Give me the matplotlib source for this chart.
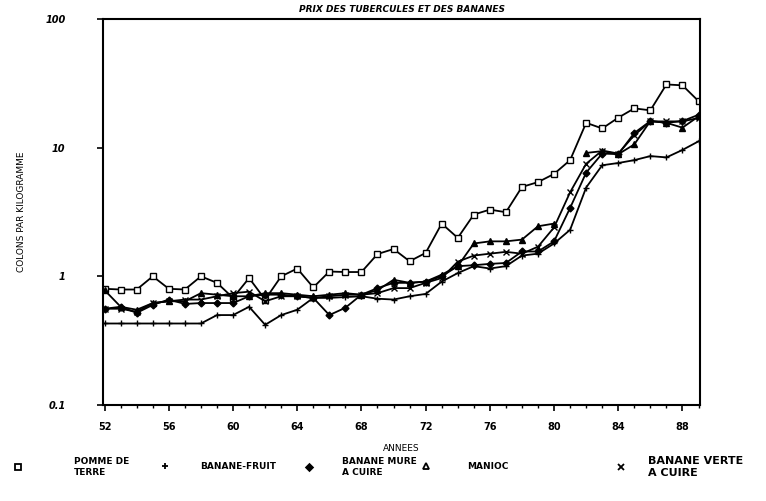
import matplotlib.pyplot as plt
from matplotlib.lines import Line2D
from matplotlib.ticker import FixedLocator, NullFormatter

years = list(range(52, 90))

pomme_de_terre = [0.80, 0.79, 0.79, 1.00, 0.80, 0.79, 1.00, 0.89, 0.68, 0.97,
                  0.66, 1.00, 1.15, 0.82, 1.09, 1.08, 1.08, 1.49, 1.63, 1.31,
                  1.52, 2.57, 1.99, 3.02, 3.30, 3.15, 4.95, 5.40, 6.25, 8.00,
                  15.6, 14.1, 17.1, 20.2, 19.5, 31.0, 30.5, 23.0]
banane_fruit = [0.43, 0.43, 0.43, 0.43, 0.43, 0.43, 0.43, 0.50, 0.50, 0.58,
                0.42, 0.50, 0.55, 0.68, 0.68, 0.69, 0.70, 0.67, 0.66, 0.70,
                0.73, 0.91, 1.06, 1.20, 1.15, 1.20, 1.45, 1.50, 1.80, 2.30,
                4.90, 7.30, 7.60, 8.00, 8.60, 8.40, 9.60, 11.2]
banane_mure = [0.56, 0.58, 0.52, 0.60, 0.66, 0.61, 0.62, 0.62, 0.62, 0.70,
               0.72, 0.72, 0.70, 0.68, 0.50, 0.57, 0.72, 0.81, 0.89, 0.89,
               0.91, 1.00, 1.20, 1.22, 1.25, 1.27, 1.56, 1.56, 1.87, 3.40,
               6.40, 9.00, 8.90, 13.0, 16.1, 15.6, 16.1, 18.0]
manioc = [0.78, 0.58, 0.55, 0.62, 0.64, 0.64, 0.74, 0.72, 0.70, 0.70,
          0.74, 0.74, 0.72, 0.70, 0.72, 0.74, 0.72, 0.78, 0.94, 0.89,
          0.91, 1.03, 1.20, 1.80, 1.87, 1.87, 1.93, 2.45, 2.57, None,
          9.10, 9.40, 8.90, 10.6, 16.1, 15.6, 14.3, 17.5]
banane_verte = [0.56, 0.56, 0.53, 0.62, 0.64, 0.66, 0.66, 0.70, 0.74, 0.76,
                0.64, 0.70, 0.70, 0.68, 0.70, 0.72, 0.72, 0.74, 0.81, 0.81,
                0.89, 0.97, 1.30, 1.45, 1.50, 1.55, 1.50, 1.70, 2.40, 4.50,
                7.50, 9.50, 9.00, 12.5, 16.0, 16.0, 16.0, 17.0]

# label, values, marker style, legend marker x (fig fraction), gap marker->text, font size
series = [
    ("POMME DE\nTERRE", pomme_de_terre, dict(marker="s", mfc="white", ms=4.5), 0.018, 5.7, 6.5),
    ("BANANE-FRUIT", banane_fruit, dict(marker="+", ms=5), 0.209, 3.4, 6.5),
    ("BANANE MURE\nA CUIRE", banane_mure, dict(marker="D", mfc="black", ms=3.5), 0.398, 3.1, 6.5),
    ("MANIOC", manioc, dict(marker="^", mfc="black", ms=4), 0.550, 4.1, 6.5),
    ("BANANE VERTE\nA CUIRE", banane_verte, dict(marker="x", ms=4.5), 0.804, 2.3, 8.0),
]

plt.rcParams["font.family"] = ["DejaVu Sans"]
plt.rcParams["font.weight"] = "bold"

fig = plt.figure(figsize=(7.66, 5.01), dpi=100)
ax = fig.add_axes([0.1345, 0.1916, 0.7795, 0.7705])

for label, vals, style, lx, gap, fs in series:
    y = [float("nan") if v is None else v for v in vals]
    ax.plot(years, y, color="black", lw=1.3, mec="black", mew=1.0, **style)
    hstyle = dict(style)
    if hstyle["marker"] == "^":
        hstyle["mfc"] = "white"
    h = Line2D([], [], color="black", ls="none", mec="black", mew=1.3, label=label, **hstyle)
    fig.legend(handles=[h], loc="center left", bbox_to_anchor=(lx, 0.068),
               frameon=False, fontsize=fs, handlelength=1.0,
               handletextpad=gap * 6.5 / fs, borderpad=0, borderaxespad=0)

ax.set_yscale("log")
ax.set_ylim(0.1, 100)
ax.set_xlim(51.9, 89.1)
ax.yaxis.set_major_locator(FixedLocator([0.1, 1, 10, 100]))
ax.yaxis.set_minor_locator(FixedLocator([]))
ax.set_yticklabels(["0.1", "1", "10", "100"], fontsize=7, fontstyle="italic")
ax.xaxis.set_major_locator(FixedLocator(range(52, 89, 4)))
ax.xaxis.set_minor_locator(FixedLocator(years))
ax.xaxis.set_minor_formatter(NullFormatter())
ax.set_xticklabels([str(v) for v in range(52, 89, 4)], fontsize=7)
ax.tick_params(axis="both", which="major", length=4, width=1.2, direction="out", pad=8)
ax.tick_params(axis="x", which="minor", length=2, width=1.0, direction="out")
ax.tick_params(axis="y", pad=23)
for sp in ax.spines.values():
    sp.set_linewidth(1.5)

ax.set_title("PRIX DES TUBERCULES ET DES BANANES", fontsize=6.5, fontstyle="italic",
             fontweight="bold", pad=5)
ax.set_ylabel("COLONS PAR KILOGRAMME", fontsize=6.5, labelpad=14)
ax.set_xlabel("ANNEES", fontsize=6.5, labelpad=9)

fig.savefig("out.png", dpi=100)
